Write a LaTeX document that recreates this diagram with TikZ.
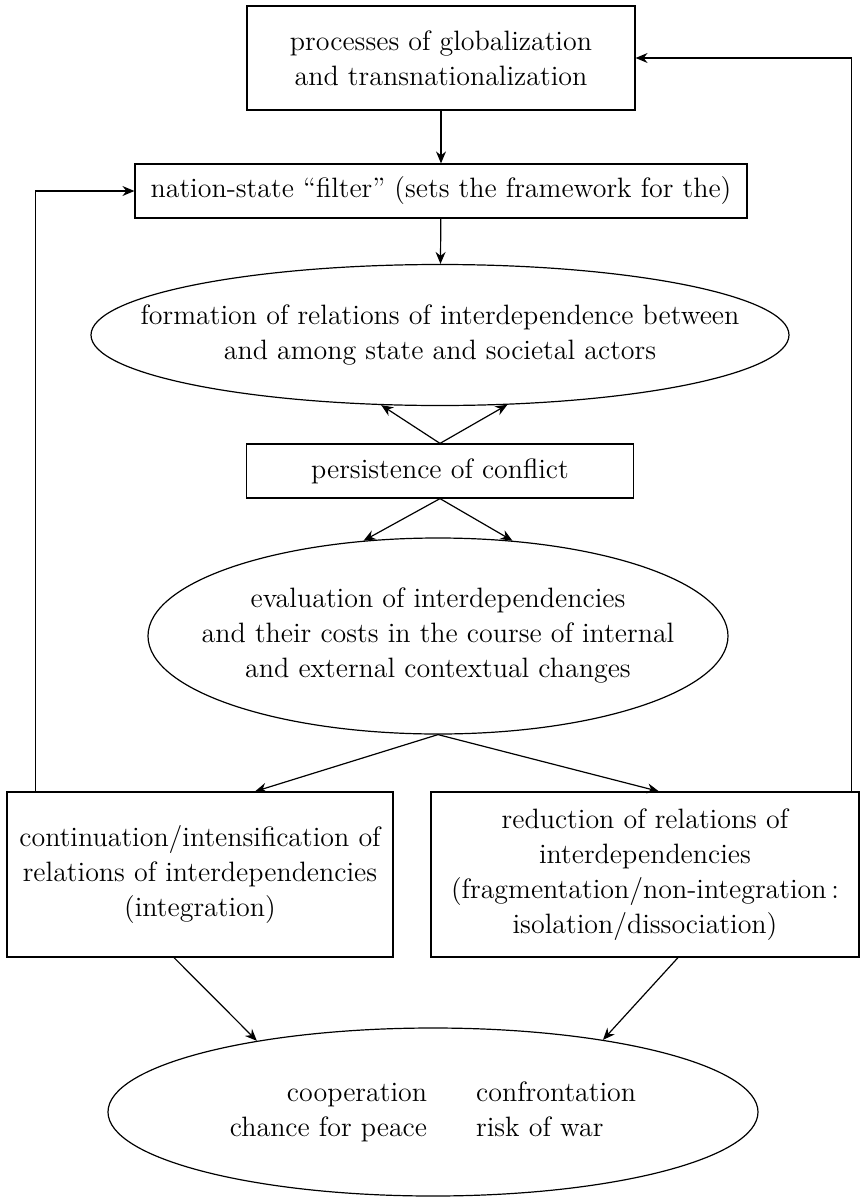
\documentclass[tikz,border=0pt]{standalone}
\usepackage{tikz}
\usetikzlibrary{shapes.geometric,arrows.meta}
\tikzset{>={Stealth[length=6pt,width=5pt,inset=2pt]}}

\begin{document}
\begin{tikzpicture}[x=0.5pt,y=-0.5pt,line width=0.6pt,
  font=\fontsize{14}{17.5}\selectfont,
  box/.style={draw,rectangle,align=center,inner sep=0pt},
  oval/.style={draw,ellipse,inner sep=0pt}]
  \useasboundingbox (0,0) rectangle (862,1199);
  % top of the chain
  \node[box,minimum width=194pt,minimum height=52pt] (glob) at (441,58)
    {processes of globalization\\and transnationalization};
  \node[box,minimum width=306pt,minimum height=27pt] (filter) at (441,191)
    {nation-state ``filter'' (sets the framework for the)};
  \node[oval,minimum width=349pt,minimum height=70.5pt,
    label={[align=center]center:formation of relations of interdependence between\\and among state and societal actors}] (form) at (440,335) {};
  \node[box,minimum width=193.5pt,minimum height=27pt] (pers) at (440,471)
    {persistence of conflict};
  \node[oval,minimum width=290pt,minimum height=98pt,
    label={[align=center]center:evaluation of interdependencies\\and their costs in the course of internal\\and external contextual changes}] (eval) at (438,636) {};
  % the two outcomes
  \node[box,minimum width=193pt,minimum height=82.5pt] (cont) at (200,874.5)
    {continuation/intensification of\\relations of interdependencies\\(integration)};
  \node[box,minimum width=214pt,minimum height=82.5pt] (redu) at (645,874.5)
    {reduction of relations of\\interdependencies\\(fragmentation/non-integration\,:\\isolation/dissociation)};
  \node[oval,minimum width=325pt,minimum height=84pt,
    label={center:\begin{tabular}{r@{\hspace{24.5pt}}l}cooperation & confrontation\\chance for peace & risk of war\end{tabular}}] (outc) at (433,1112) {};

  \draw[->] (glob) -- (filter);
  \draw[->] (filter) -- (form);
  \draw[->] (pers.north) -- (form.230);
  \draw[->] (pers.north) -- (form.314);
  \draw[->] (pers.south) -- (eval.128);
  \draw[->] (pers.south) -- (eval.52);
  \draw[->] (eval.south) -- ([xshift=27.5pt]cont.north);
  \draw[->] (eval.south) -- ([xshift=7pt]redu.north);
  \draw[->] ([xshift=-13pt]cont.south) -- (outc.158);
  \draw[->] ([xshift=16.5pt]redu.south) -- (outc.23);
  % feedback loops
  \draw[->] ([xshift=14.5pt]cont.north west) |- (filter.west);
  \draw[->] ([xshift=-4pt]redu.north east) |- (glob.east);
\end{tikzpicture}
\end{document}
